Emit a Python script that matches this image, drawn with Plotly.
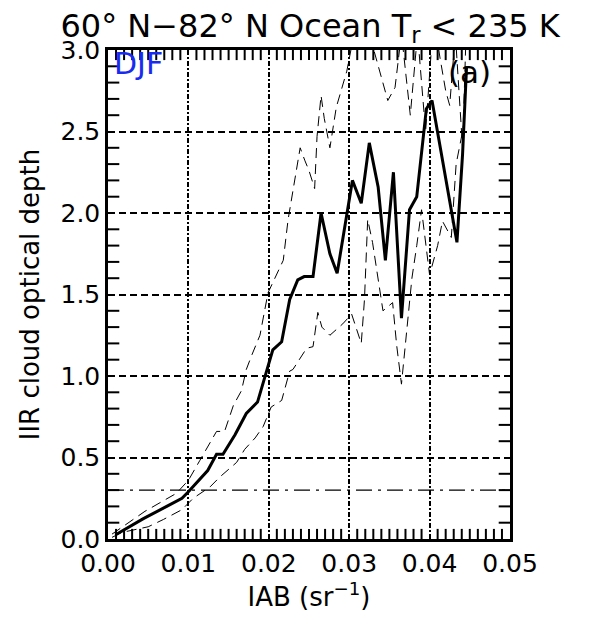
import plotly.graph_objects as go

# Mean IIR optical depth vs IAB (solid)
iab_mean = [0.0009, 0.0044, 0.0073, 0.0092, 0.0100, 0.0124, 0.0135, 0.0143, 0.0158, 0.0172,
            0.0186, 0.0200, 0.0205, 0.0216, 0.0226, 0.0236, 0.0244, 0.0255, 0.0265, 0.0276,
            0.0285, 0.0304, 0.0315, 0.0325, 0.0336, 0.0345, 0.0355, 0.0365, 0.0375, 0.0384,
            0.0396, 0.0403, 0.0434, 0.0441, 0.0446]
od_mean = [0.025, 0.125, 0.20, 0.25, 0.29, 0.42, 0.52, 0.52, 0.64, 0.77,
           0.84, 1.07, 1.16, 1.21, 1.47, 1.59, 1.61, 1.61, 2.00, 1.75,
           1.63, 2.20, 2.06, 2.43, 2.16, 1.71, 2.25, 1.355, 2.02, 2.10,
           2.64, 2.69, 1.82, 2.36, 2.90]

# Upper bound (thin dashed)
iab_upper = [0.0005, 0.0046, 0.0085, 0.0100, 0.0114, 0.0135, 0.0145, 0.0156, 0.0166, 0.0172,
             0.0179, 0.0189, 0.0199, 0.0218, 0.0224, 0.0230, 0.0239, 0.0245, 0.0250, 0.0257,
             0.0260, 0.0265, 0.0269, 0.0276, 0.0284, 0.0297, 0.0305, 0.0310, 0.0325, 0.0340,
             0.0348, 0.0357, 0.0365, 0.0376, 0.0385, 0.0395, 0.0405, 0.0413, 0.0420, 0.0425,
             0.0432, 0.0441, 0.0446]
od_upper = [0.03, 0.17, 0.28, 0.36, 0.48, 0.66, 0.66, 0.82, 0.91, 1.04,
            1.13, 1.25, 1.51, 1.71, 1.96, 2.14, 2.40, 2.32, 2.26, 2.15,
            2.47, 2.72, 2.58, 2.40, 2.65, 2.87, 3.10, 3.20, 3.10, 2.83,
            2.69, 2.77, 3.10, 2.60, 3.10, 2.50, 3.20, 2.95, 2.75, 2.66,
            3.10, 2.40, 3.20]

# Lower bound (thin dashed)
iab_lower = [0.0005, 0.0017, 0.0050, 0.0069, 0.0092, 0.0106, 0.0127, 0.0139, 0.0160, 0.0170,
             0.0183, 0.0193, 0.0203, 0.0216, 0.0226, 0.0230, 0.0247, 0.0255, 0.0261, 0.0266,
             0.0276, 0.0292, 0.0303, 0.0315, 0.0319, 0.0323, 0.0329, 0.0335, 0.0342, 0.0354,
             0.0359, 0.0365, 0.0372, 0.0378, 0.0384, 0.0390, 0.0400, 0.0410, 0.0416, 0.0427,
             0.0433, 0.0441]
od_lower = [0.01, 0.04, 0.075, 0.12, 0.18, 0.25, 0.32, 0.38, 0.47, 0.55,
            0.62, 0.69, 0.81, 0.85, 1.03, 1.04, 1.17, 1.18, 1.39, 1.30,
            1.25, 1.32, 1.38, 1.20, 1.47, 1.96, 1.82, 1.63, 1.40, 1.45,
            1.19, 0.95, 1.30, 1.60, 1.80, 2.02, 1.62, 1.80, 1.95, 1.85,
            2.30, 2.50]

THRESHOLD = 0.3
X_RANGE = [0, 0.05]
Y_RANGE = [0, 3]
X_MAJOR, X_MINOR = 0.01, 0.001
Y_MAJOR, Y_MINOR = 0.5, 0.1
N_X_MINOR, N_Y_MINOR = 50, 30

FONT = "DejaVu Sans"
PLOT_W, PLOT_H = 402, 489   # plot-area size in pixels

fig = go.Figure()
fig.add_trace(go.Scatter(x=iab_upper, y=od_upper, mode="lines", hoverinfo="skip",
                         line=dict(color="black", width=1, dash="10px,6px")))
fig.add_trace(go.Scatter(x=iab_lower, y=od_lower, mode="lines", hoverinfo="skip",
                         line=dict(color="black", width=1, dash="10px,6px")))
fig.add_trace(go.Scatter(x=iab_mean, y=od_mean, mode="lines",
                         line=dict(color="black", width=3)))
fig.add_hline(y=THRESHOLD, line=dict(color="black", width=1.3, dash="16px,6px,3px,6px"))

# inside tick marks on the four frame sides, placed fully inside the plot area
xspan = X_RANGE[1] - X_RANGE[0]
yspan = Y_RANGE[1] - Y_RANGE[0]
xt = [X_RANGE[0] + i * X_MINOR for i in range(1, N_X_MINOR) if i % 10]
yt = [Y_RANGE[0] + i * Y_MINOR for i in range(1, N_Y_MINOR) if i % 5]
dy = 4.5 / PLOT_H * yspan
dx = 5.0 / PLOT_W * xspan
fig.add_trace(go.Scatter(x=xt + xt, y=[Y_RANGE[0] + dy] * len(xt) + [Y_RANGE[1] - dy] * len(xt),
                         mode="markers", hoverinfo="skip", cliponaxis=False,
                         marker=dict(symbol="line-ns", size=8, color="black",
                                     line=dict(color="black", width=2))))
fig.add_trace(go.Scatter(x=[X_RANGE[0] + dx] * len(yt) + [X_RANGE[1] - dx] * len(yt), y=yt + yt,
                         mode="markers", hoverinfo="skip", cliponaxis=False,
                         marker=dict(symbol="line-ew", size=9, color="black",
                                     line=dict(color="black", width=2))))

axis_common = dict(showline=True, linecolor="black", linewidth=2.5, mirror=True,
                   ticks="", showgrid=True, gridcolor="black", gridwidth=1.8,
                   zeroline=False, tickmode="linear", tick0=0,
                   tickfont=dict(family=FONT, size=25, color="black"))

fig.update_layout(
    xaxis=dict(range=X_RANGE, dtick=X_MAJOR, tickformat=".2f",
               griddash="5px,2px,2px,2px",
               title=dict(text="IAB (sr<sup>−1</sup>)",
                          font=dict(family=FONT, size=26, color="black"), standoff=4),
               **axis_common),
    yaxis=dict(range=Y_RANGE, dtick=Y_MAJOR, tickformat=".1f",
               griddash="7px,4px",
               title=dict(text="IIR cloud optical depth",
                          font=dict(family=FONT, size=26, color="black"), standoff=14),
               **axis_common),
)

fig.add_annotation(text="DJF", xref="paper", yref="paper", x=0.01, y=1.012,
                   xanchor="left", yanchor="top", showarrow=False,
                   font=dict(family=FONT, size=30, color="#1a2bf0"))
fig.add_annotation(text="(a)", xref="paper", yref="paper", x=0.90, y=0.955,
                   xanchor="center", yanchor="middle", showarrow=False,
                   font=dict(family=FONT, size=31, color="black"))

fig.update_layout(
    width=581, height=612,
    margin=dict(l=100, r=79, t=42, b=81),
    paper_bgcolor="white", plot_bgcolor="white",
    showlegend=False,
    title=dict(text="60° N−82° N Ocean T<sub>r</sub> < 235 K", x=0.52, xanchor="center",
               y=0.99, yanchor="top", yref="container",
               font=dict(family=FONT, size=32, color="black")),
)

fig.write_html("out.html")
